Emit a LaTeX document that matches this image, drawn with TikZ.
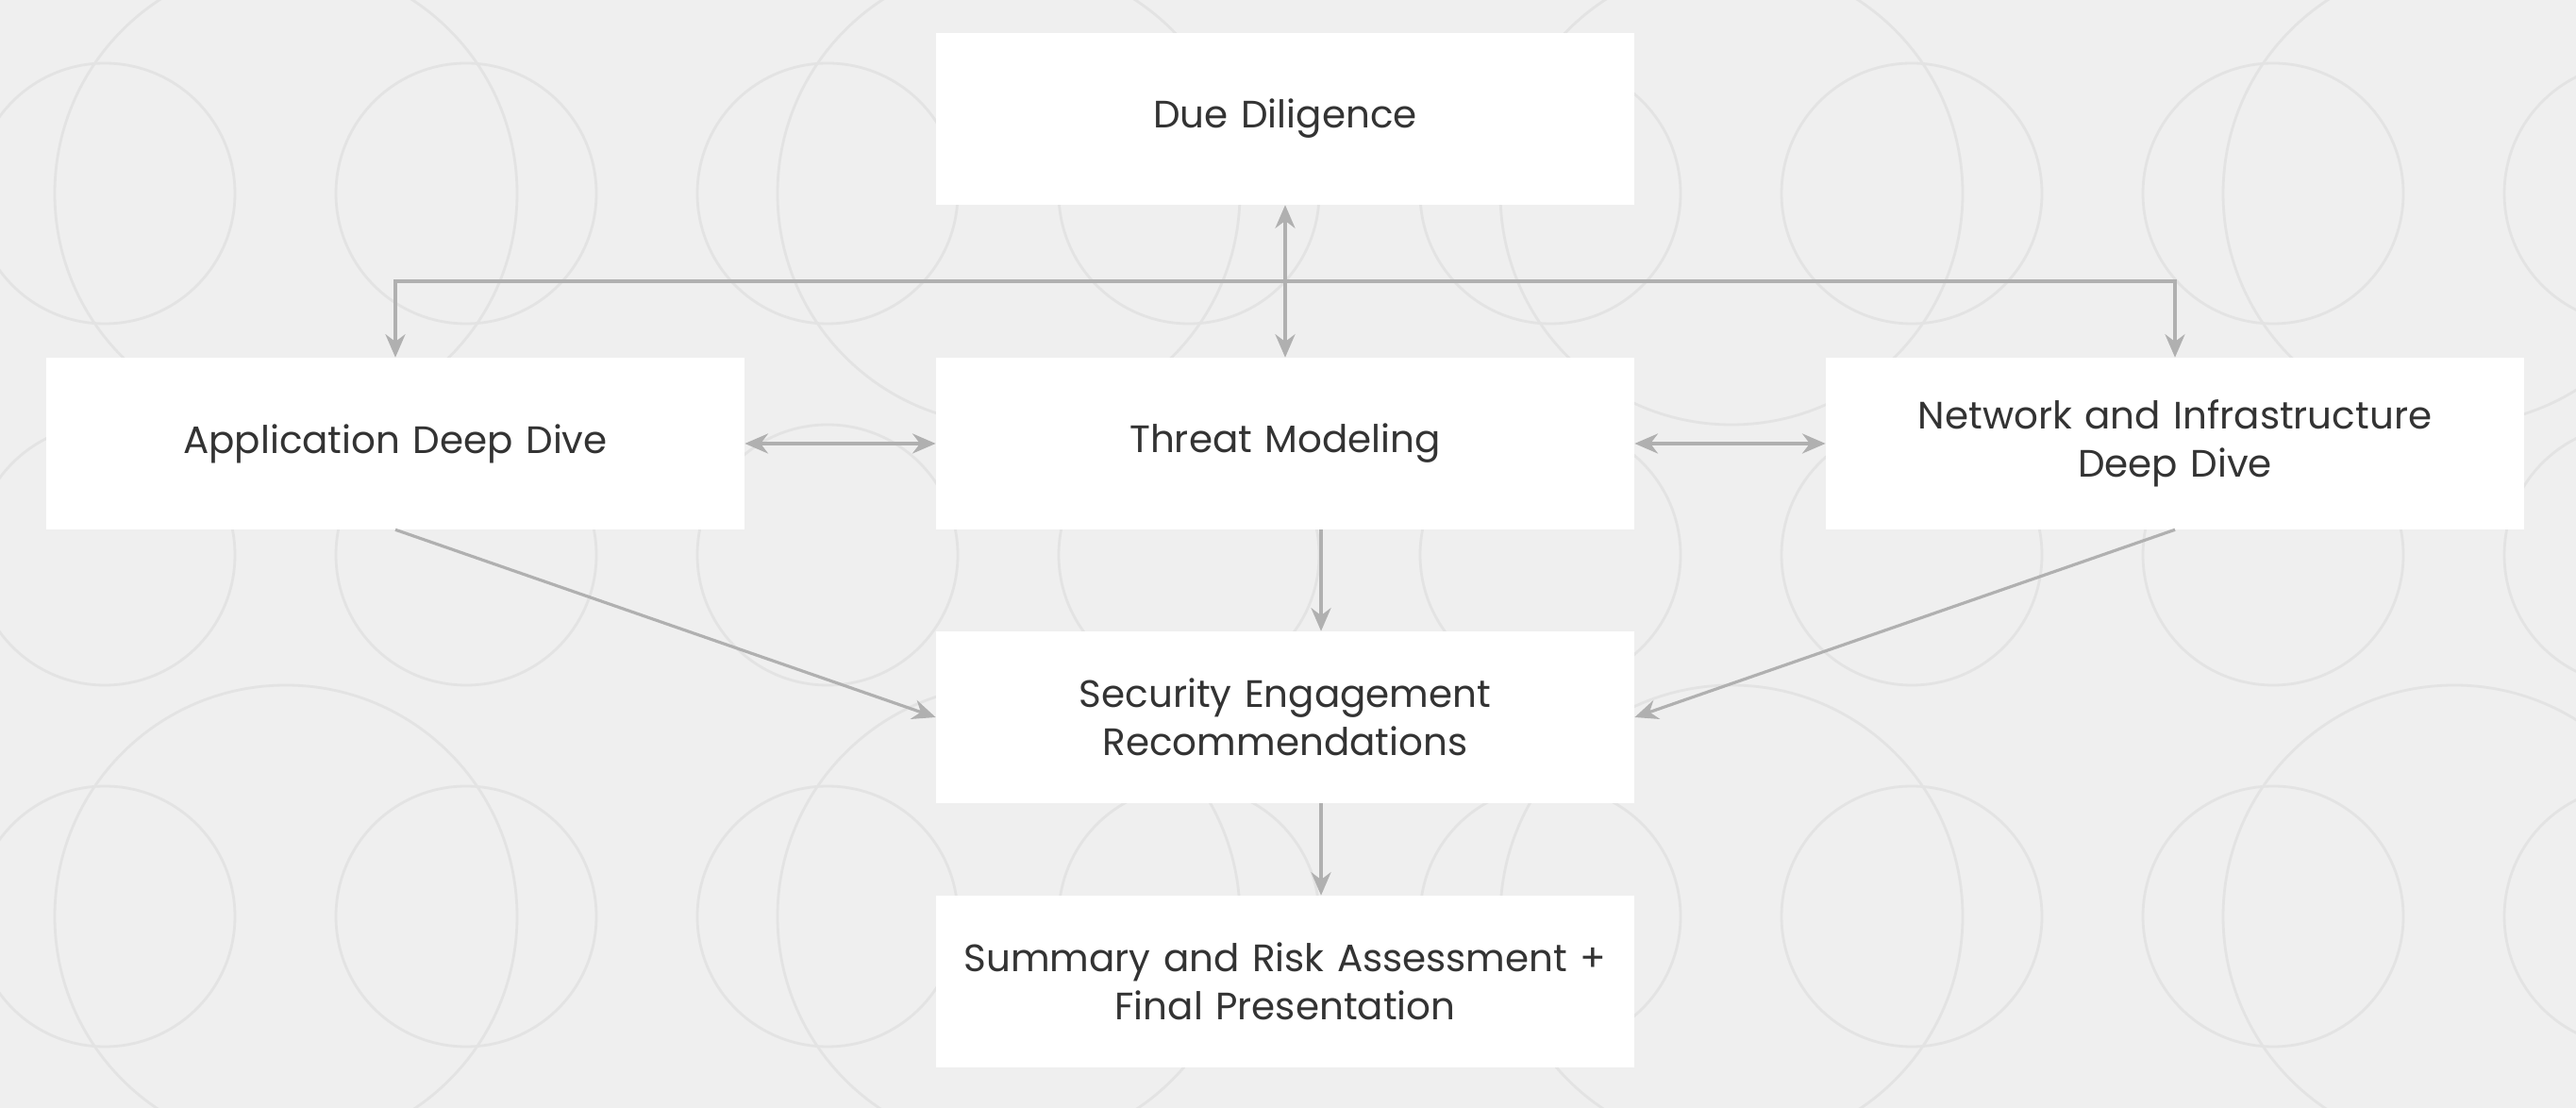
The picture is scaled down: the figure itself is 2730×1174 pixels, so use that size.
\documentclass[tikz,border=0pt]{standalone}
\usepackage{fontspec}
\setmainfont{Poppins}
\usetikzlibrary{arrows.meta,positioning}
\definecolor{bgcol}{HTML}{EFEFEF}
\definecolor{ringcol}{HTML}{E3E3E3}
\definecolor{linkcol}{HTML}{B0B0B0}
\definecolor{txtcol}{HTML}{333333}
\tikzset{
	stage/.style={draw=none, fill=white, minimum width=7.39cm, minimum height=1.81cm,
		text width=7.1cm, inner xsep=0pt, align=center, text=txtcol,
		font=\fontsize{11.5}{14.5}\selectfont},
	link/.style={draw=linkcol, line width=0.9pt, -{Stealth[length=7pt,width=6pt]}},
	biglink/.style={link, {Stealth[length=7pt,width=6pt]}-{Stealth[length=7pt,width=6pt]}}
}
\begin{document}
\begin{tikzpicture}[x=0.01cm, y=-0.01cm]
	\fill[bgcol] (0, 0) rectangle (2730, 1174);
	\useasboundingbox (0, 0) rectangle (2730, 1174);
	\begin{scope}
		\clip (0, 0) rectangle (2730, 1174);
		\foreach \i in {0, ..., 7}
			\foreach \j in {0, 1, 2}
			{
				\draw[ringcol, line width=0.8pt] (111 + 383*\i, 205 + 383*\j) circle (138);
				\draw[ringcol, line width=0.8pt] (303 + 766*\i, 205 + 766*\j) circle (245);
			}
	\end{scope}
	% boxes
	\node[stage] (due) at (1362, 126) {Due Diligence};
	\node[stage] (app) at (419, 470) {Application Deep Dive};
	\node[stage] (threat) at (1362, 470) {Threat Modeling};
	\node[stage] (net) at (2305, 470) {Network and Infrastructure\\Deep Dive};
	\node[stage] (sec) at (1362, 760) {Security Engagement\\Recommendations};
	\node[stage] (sum) at (1362, 1040) {Summary and Risk Assessment +\\Final Presentation};
	% links
	\coordinate (bus) at (1362, 298);
	\draw[biglink] (due) -- (threat);
	\draw[link] (bus) -| (app.north);
	\draw[link] (bus) -| (net.north);
	\draw[biglink] (app) -- (threat);
	\draw[biglink] (threat) -- (net);
	\draw[link] ([xshift=0.38cm]threat.south) -- ([xshift=0.38cm]sec.north);
	\draw[link] (app.south) -- (sec.west);
	\draw[link] (net.south) -- (sec.east);
	\draw[link] ([xshift=0.38cm]sec.south) -- ([xshift=0.38cm]sum.north);
\end{tikzpicture}
\end{document}
